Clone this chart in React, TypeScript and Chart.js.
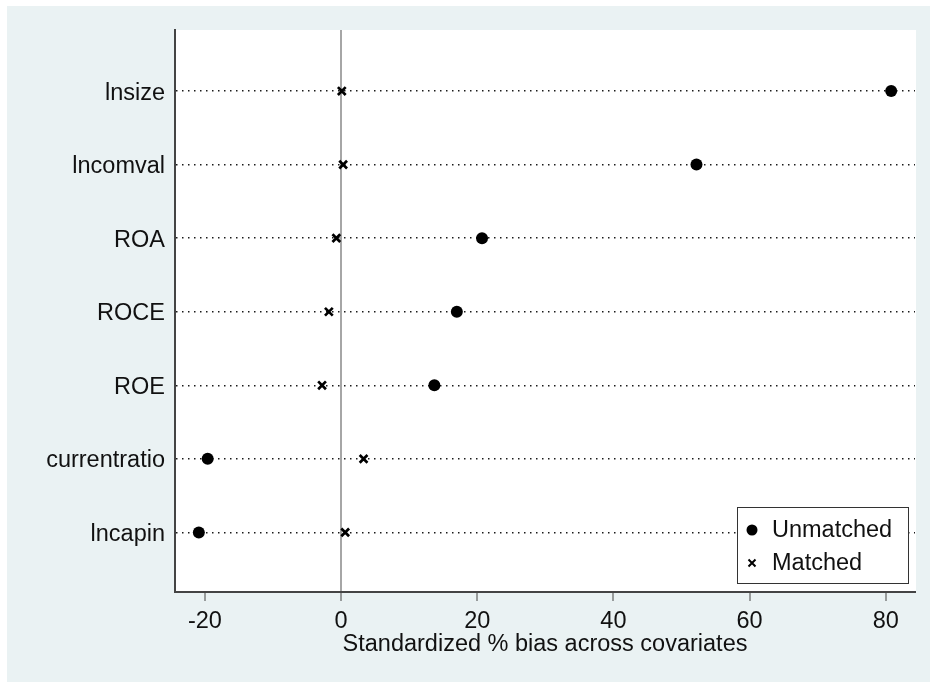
import React, { useEffect, useRef } from "react";
import { Chart, registerables } from "chart.js";

Chart.register(...registerables);

const covariates = ["lnsize", "lncomval", "ROA", "ROCE", "ROE", "currentratio", "lncapin"];
const unmatchedBias = [80.8, 52.2, 20.7, 17.0, 13.7, -19.6, -20.9];
const matchedBias = [0.1, 0.3, -0.7, -1.8, -2.8, 3.3, 0.6];
const xTickValues = [-20, 0, 20, 40, 60, 80];
const seriesNames = ["Unmatched", "Matched"];
const xTitle = "Standardized % bias across covariates";

const FONT = "'Liberation Sans', Arial, sans-serif";
const FS = 23.5;

const bgPlugin = {
  id: "bgPlugin",
  beforeDraw(chart: any) {
    const { ctx, chartArea } = chart;
    ctx.save();
    ctx.fillStyle = "#ffffff";
    ctx.fillRect(0, 0, chart.width, chart.height);
    ctx.fillStyle = "#EAF2F3";
    ctx.fillRect(7, 6, 923, 676);
    ctx.fillStyle = "#ffffff";
    ctx.fillRect(chartArea.left, chartArea.top, chartArea.right - chartArea.left + 1, chartArea.bottom - chartArea.top);
    ctx.restore();
  },
};

const legendPlugin = {
  id: "legendBox",
  afterDraw(chart: any) {
    const { ctx, chartArea } = chart;
    const w = 171, h = 76;
    const x0 = chartArea.right - 7 - w;
    const y0 = chartArea.bottom - 9 - h;
    ctx.save();
    ctx.fillStyle = "#ffffff";
    ctx.fillRect(x0, y0, w, h);
    ctx.strokeStyle = "#333333";
    ctx.lineWidth = 1;
    ctx.strokeRect(x0 + 0.5, y0 + 0.5, w, h);
    const mx = x0 + 15;
    const rows = [y0 + 23, y0 + 56];
    ctx.fillStyle = "#000";
    ctx.beginPath();
    ctx.arc(mx, rows[0], 5.5, 0, Math.PI * 2);
    ctx.fill();
    ctx.strokeStyle = "#000";
    ctx.lineWidth = 2;
    const c = 3.5;
    ctx.beginPath();
    ctx.moveTo(mx - c, rows[1] - c);
    ctx.lineTo(mx + c, rows[1] + c);
    ctx.moveTo(mx + c, rows[1] - c);
    ctx.lineTo(mx - c, rows[1] + c);
    ctx.stroke();
    ctx.fillStyle = "#111";
    ctx.font = `${FS}px ${FONT}`;
    ctx.textBaseline = "middle";
    ctx.textAlign = "left";
    ctx.fillText(seriesNames[0], x0 + 35, rows[0] + 1);
    ctx.fillText(seriesNames[1], x0 + 35, rows[1] + 1);
    ctx.restore();
  },
};

export default function App() {
  const ref = useRef<HTMLCanvasElement>(null);
  useEffect(() => {
    if (!ref.current) return;
    const chart = new Chart(ref.current, {
      type: "scatter",
      data: {
        datasets: [
          {
            label: seriesNames[0],
            data: covariates.map((_, i) => ({ x: unmatchedBias[i], y: i + 1 })),
            pointStyle: "circle",
            pointRadius: 6,
            backgroundColor: "#000",
            borderColor: "#000",
            borderWidth: 0,
          },
          {
            label: seriesNames[1],
            data: covariates.map((_, i) => ({ x: matchedBias[i], y: i + 1 })),
            pointStyle: "crossRot",
            pointRadius: 5.5,
            backgroundColor: "#000",
            borderColor: "#000",
            borderWidth: 2.7,
          },
        ],
      },
      options: {
        animation: false,
        responsive: false,
        devicePixelRatio: 1,
        layout: { padding: { left: 0, top: 30, right: 19, bottom: 0 } },
        plugins: { legend: { display: false }, tooltip: { enabled: false } },
        scales: {
          x: {
            type: "linear",
            min: -24.4,
            max: 84.3,
            afterBuildTicks: (s: any) => {
              s.ticks = xTickValues.map((v) => ({ value: v }));
            },
            afterFit: (s: any) => {
              s.height = 92;
            },
            grid: {
              drawTicks: true,
              tickLength: 9,
              tickWidth: 1,
              tickColor: "#444",
              color: (ctx: any) => (ctx.tick && ctx.tick.value === 0 ? "#A6A6A6" : "rgba(0,0,0,0)"),
              lineWidth: 2,
            },
            border: { display: true, color: "#444", width: 2 },
            ticks: {
              color: "#111",
              font: { family: FONT, size: FS },
              padding: 6,
              maxRotation: 0,
              callback: (v: any) => String(v),
            },
            title: {
              display: true,
              text: xTitle,
              color: "#111",
              font: { family: FONT, size: FS },
              padding: { top: 0, bottom: 25 },
            },
          },
          y: {
            type: "linear",
            reverse: true,
            min: 0.17,
            max: 7.81,
            afterBuildTicks: (s: any) => {
              s.ticks = covariates.map((_, i) => ({ value: i + 1 }));
            },
            afterFit: (s: any) => {
              s.width = 175;
            },
            grid: {
              drawTicks: false,
              color: "#1a1a1a",
              lineWidth: 1.5,
            },
            border: { display: true, color: "#444", width: 2, dash: [1.5, 4.5] },
            ticks: {
              color: "#111",
              font: { family: FONT, size: FS },
              padding: 10,
              labelOffset: 2,
              callback: (v: any) => covariates[Math.round(Number(v)) - 1] ?? "",
            },
          },
        },
      },
      plugins: [bgPlugin, legendPlugin],
    });
    return () => chart.destroy();
  }, []);
  return (
    <div style={{ position: "absolute", left: 0, top: 0, width: 934, height: 684 }}>
      <canvas ref={ref} width={934} height={684} style={{ width: 934, height: 684, display: "block" }} />
    </div>
  );
}
